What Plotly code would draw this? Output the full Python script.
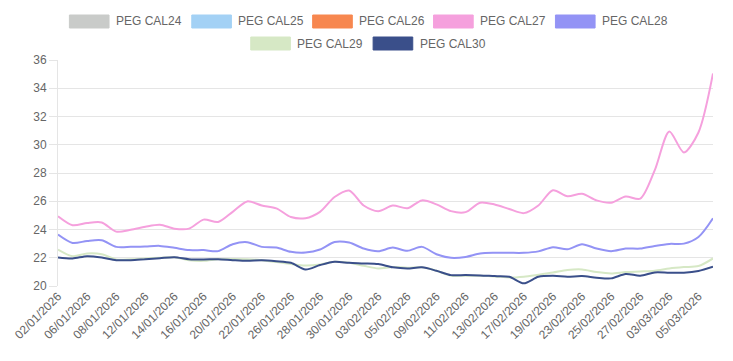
import plotly.graph_objects as go

dates = [
    "02/01/2026", "05/01/2026", "06/01/2026", "07/01/2026", "08/01/2026", "09/01/2026",
    "12/01/2026", "13/01/2026", "14/01/2026", "15/01/2026", "16/01/2026",
    "19/01/2026", "20/01/2026", "21/01/2026", "22/01/2026", "23/01/2026",
    "26/01/2026", "27/01/2026", "28/01/2026", "29/01/2026", "30/01/2026",
    "02/02/2026", "03/02/2026", "04/02/2026", "05/02/2026", "06/02/2026",
    "09/02/2026", "10/02/2026", "11/02/2026", "12/02/2026", "13/02/2026",
    "16/02/2026", "17/02/2026", "18/02/2026", "19/02/2026", "20/02/2026",
    "23/02/2026", "24/02/2026", "25/02/2026", "26/02/2026", "27/02/2026",
    "02/03/2026", "03/03/2026", "04/03/2026", "05/03/2026", "06/03/2026",
]

cal27 = [24.93, 24.30, 24.46, 24.50, 23.85, 23.98, 24.20, 24.34, 24.06, 24.06,
         24.70, 24.53, 25.25, 25.99, 25.70, 25.50, 24.88, 24.80, 25.25, 26.30,
         26.76, 25.70, 25.30, 25.70, 25.50, 26.06, 25.78, 25.30, 25.23, 25.90,
         25.77, 25.45, 25.16, 25.70, 26.78, 26.36, 26.53, 26.06, 25.90, 26.34,
         26.18, 28.20, 30.94, 29.46, 30.87, 35.05]

cal28 = [23.64, 23.05, 23.19, 23.24, 22.77, 22.77, 22.80, 22.84, 22.70, 22.54,
         22.54, 22.47, 22.96, 23.10, 22.77, 22.72, 22.42, 22.37, 22.58, 23.12,
         23.08, 22.65, 22.46, 22.72, 22.49, 22.77, 22.25, 22.00, 22.06, 22.30,
         22.35, 22.35, 22.35, 22.45, 22.75, 22.60, 22.96, 22.65, 22.46, 22.65,
         22.65, 22.84, 22.98, 23.00, 23.47, 24.80]

cal29 = [22.58, 22.11, 22.30, 22.25, 21.88, 21.90, 21.95, 22.00, 22.04, 21.83,
         21.78, 21.90, 21.92, 21.90, 21.83, 21.70, 21.55, 21.45, 21.52, 21.71,
         21.64, 21.43, 21.24, 21.35, 21.30, 21.32, 21.08, 20.73, 20.73, 20.72,
         20.68, 20.60, 20.66, 20.80, 20.95, 21.13, 21.17, 20.99, 20.89, 20.99,
         21.03, 21.08, 21.24, 21.34, 21.41, 21.95]

cal30 = [22.02, 21.95, 22.11, 22.02, 21.83, 21.83, 21.90, 21.97, 22.04, 21.90,
         21.88, 21.90, 21.83, 21.78, 21.83, 21.76, 21.64, 21.17, 21.48, 21.71,
         21.64, 21.60, 21.55, 21.32, 21.24, 21.32, 21.08, 20.77, 20.77, 20.75,
         20.70, 20.66, 20.19, 20.65, 20.72, 20.66, 20.70, 20.59, 20.54, 20.85,
         20.73, 20.96, 20.94, 20.94, 21.06, 21.36]

cal24 = [None] * len(dates)
cal25 = [None] * len(dates)
cal26 = [None] * len(dates)

series_names = ["PEG CAL24", "PEG CAL25", "PEG CAL26", "PEG CAL27",
                "PEG CAL28", "PEG CAL29", "PEG CAL30"]
series_values = [cal24, cal25, cal26, cal27, cal28, cal29, cal30]
series_colors = ["#c9cbc9", "#a3d1f5", "#f7874f", "#f5a0dd",
                 "#9393f5", "#d6e8c5", "#3a4f8a"]

y_ticks = [20, 22, 24, 26, 28, 30, 32, 34, 36]
x_tickvals = dates[::2]

W, H = 733, 361
ML, MR, MT, MB = 52, 20, 60, 75
PW, PH = W - ML - MR, H - MT - MB

def px_x(p):
    return (p - ML) / PW

def px_y(p):
    return (H - MB - p) / PH

fig = go.Figure()
for name, vals, col in zip(series_names, series_values, series_colors):
    fig.add_trace(go.Scatter(
        x=dates, y=vals, name=name, mode="lines",
        line=dict(color=col, width=2, shape="spline", smoothing=0.8),
        showlegend=False, hoverinfo="x+y+name",
    ))

# Legend drawn as Chart.js-style boxes + labels
legend_rows = [
    [(63.5, 0), (187, 1), (309, 2), (431, 3), (554, 4)],
    [(246.5, 5), (370, 6)],
]
row_y = [(15, 28), (37, 50)]
shapes = []
annotations = []
for r, row in enumerate(legend_rows):
    y0, y1 = row_y[r]
    for bx, idx in row:
        shapes.append(dict(
            type="rect", xref="paper", yref="paper",
            x0=px_x(bx), x1=px_x(bx + 40), y0=px_y(y1), y1=px_y(y0),
            fillcolor=series_colors[idx], line=dict(color=series_colors[idx], width=1),
            layer="above",
        ))
        annotations.append(dict(
            xref="paper", yref="paper", x=px_x(bx + 45), y=px_y((y0 + y1) / 2),
            text=series_names[idx], showarrow=False, xanchor="left", yanchor="middle",
            font=dict(family="Liberation Sans, Arial, sans-serif", size=12, color="#666666"),
        ))

fig.update_layout(
    width=W, height=H, autosize=False,
    margin=dict(l=ML, r=MR, t=MT, b=MB, pad=0),
    paper_bgcolor="white", plot_bgcolor="white",
    font=dict(family="Liberation Sans, Arial, sans-serif", size=12, color="#666666"),
    showlegend=False,
    shapes=shapes, annotations=annotations,
    xaxis=dict(
        type="category", range=[0, len(dates) - 1],
        tickmode="array", tickvals=x_tickvals, ticktext=x_tickvals,
        tickangle=-45, showgrid=False, zeroline=False, showline=False,
        ticks="", tickfont=dict(size=12, color="#666666"),
    ),
    yaxis=dict(
        range=[20, 36], tickmode="array", tickvals=y_ticks,
        showgrid=True, gridcolor="#e5e5e5", gridwidth=1,
        zeroline=False, showline=True, linecolor="#e5e5e5", linewidth=1,
        ticks="outside", ticklen=8, tickcolor="#e5e5e5",
        tickfont=dict(size=12, color="#666666"),
    ),
)

fig.write_html("out.html", config={"displayModeBar": False},
               post_script="document.body.style.margin='0';")
